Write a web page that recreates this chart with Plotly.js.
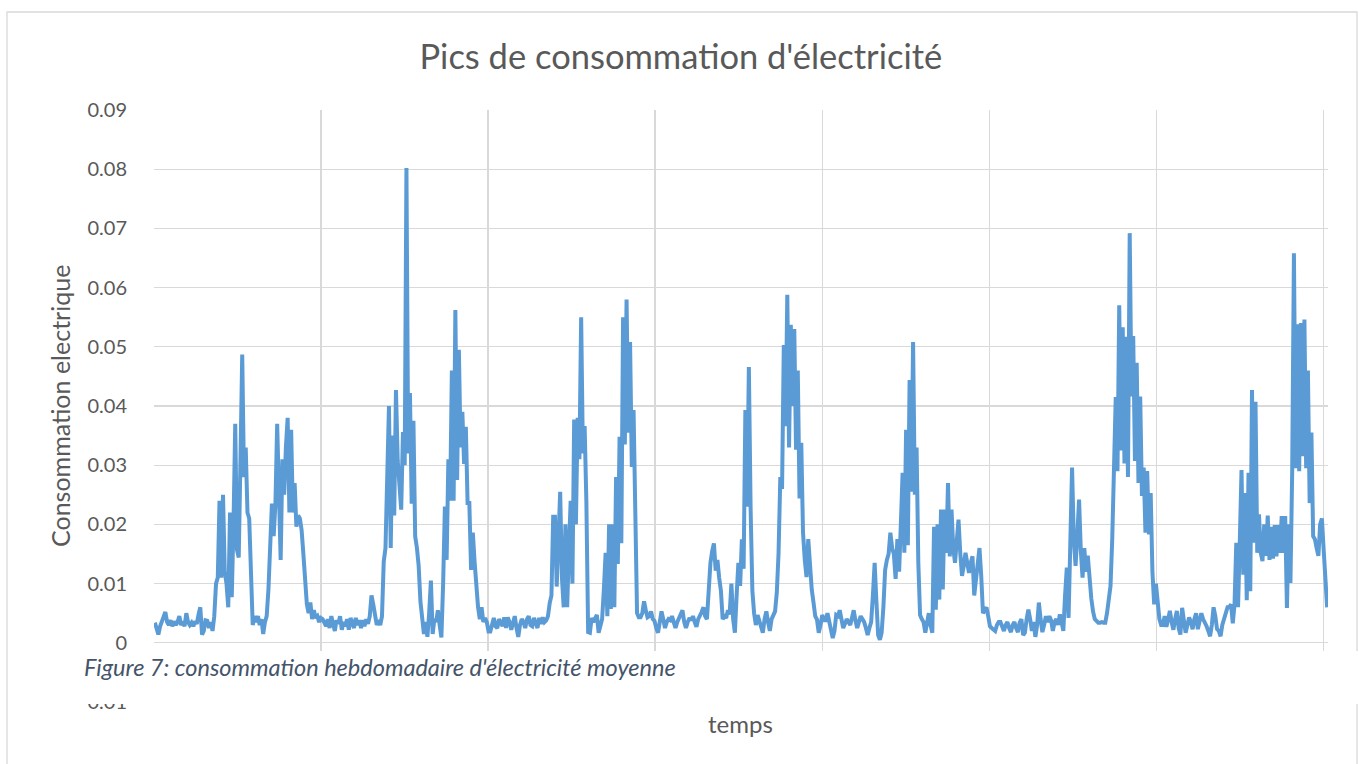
<!DOCTYPE html>
<html>
<head>
<meta charset="utf-8">
<script src="https://cdn.plot.ly/plotly-3.0.1.min.js"></script>
<style>html,body{margin:0;padding:0;background:#fff;}#chart{width:1359px;height:764px;}</style>
</head>
<body>
<div id="chart"></div>
<script>
// Average electricity consumption, 96 readings per day, seven days
const day1 = [.0034,.0025,.0014,.0028,.0035,.0045,.0052,.0035,.003,.0038,
  .0028,.0036,.003,.0035,.0045,.003,.0036,.0028,.005,.0035,
  .003,.0034,.0028,.0036,.0032,.0048,.006,.0014,.002,.0038,
  .0037,.0025,.0035,.002,.0045,.010,.011,.024,.011,.025,
  .012,.010,.006,.022,.0077,.020,.037,.0157,.0144,.031,
  .0487,.028,.033,.022,.021,.012,.003,.0045,.0035,.0045,
  .003,.004,.0015,.0035,.0045,.009,.015,.0235,.018,.0235,
  .037,.026,.014,.031,.025,.033,.038,.022,.036,.022,
  .027,.0196,.0215,.021,.019,.015,.011,.0065,.005,.0068,
  .004,.0055,.0042,.0045,.0035,.0042];
const day2 = [.004,.0035,.0028,.004,.0025,.0045,.0035,.002,.0038,.0032,
  .0045,.0022,.0035,.0028,.004,.0022,.0042,.0035,.0025,.0042,
  .003,.0038,.0025,.0038,.0028,.004,.0032,.0045,.008,.0065,
  .0045,.003,.0038,.003,.0045,.0137,.016,.030,.040,.016,
  .035,.0215,.0427,.0308,.027,.0225,.0356,.03,.0802,.032,
  .0422,.0235,.0375,.018,.016,.013,.007,.0035,.0015,.0035,
  .001,.005,.0105,.0015,.004,.0035,.0055,.003,.0009,.010,
  .023,.014,.031,.024,.046,.024,.0562,.0275,.0495,.033,
  .039,.0302,.0365,.0236,.0236,.0123,.0186,.0137,.0083,.006,
  .004,.006,.0035,.0042,.0035,.0019];
const day3 = [.0019,.0035,.0042,.0028,.0025,.004,.0033,.0028,.0043,.0025,
  .0043,.0035,.0022,.0038,.0045,.0025,.001,.003,.004,.0035,
  .0025,.004,.0045,.003,.0028,.0042,.0035,.0025,.0042,.0032,
  .0043,.0035,.0038,.0045,.0067,.008,.0213,.0213,.0095,.018,
  .0255,.011,.006,.02,.006,.016,.024,.01,.0377,.02,
  .038,.031,.055,.032,.0366,.0236,.0018,.0017,.0042,.0035,
  .004,.0047,.0017,.003,.004,.009,.0152,.0045,.020,.0057,
  .020,.006,.028,.0133,.0348,.0168,.055,.0335,.058,.0355,
  .0508,.0297,.0393,.022,.005,.0043,.0043,.005,.007,.0055,
  .0043,.0045,.0053,.004,.0037,.0025];
const day4 = [.0017,.0035,.0053,.004,.0025,.0035,.004,.0038,.0045,.0035,
  .0025,.0035,.0043,.0048,.0055,.0035,.0025,.0035,.0042,.0038,
  .0045,.0035,.0027,.004,.0045,.0052,.006,.0045,.004,.009,
  .0135,.0155,.0168,.0122,.014,.011,.0088,.004,.0045,.0042,
  .0055,.0048,.01,.004,.0017,.008,.0135,.0096,.0175,.0125,
  .0393,.023,.0466,.0226,.0088,.005,.003,.0047,.0035,.0025,
  .0017,.004,.0053,.0035,.002,.004,.0045,.0053,.0085,.0152,
  .028,.026,.0503,.0366,.0588,.033,.0537,.04,.053,.0326,
  .046,.0244,.0338,.0186,.014,.0111,.0175,.012,.009,.0068,
  .0045,.0039,.0017,.003,.0047,.0038];
const day5 = [.0038,.005,.0035,.0027,.0008,.002,.0047,.0045,.0055,.004,
  .0025,.0032,.004,.0035,.003,.0042,.0055,.0038,.0025,.0035,
  .0045,.004,.0035,.0025,.0013,.0025,.0035,.008,.0135,.007,
  .0013,.0005,.0017,.006,.0123,.014,.015,.0186,.016,.015,
  .0108,.0175,.012,.02,.0287,.0152,.036,.0165,.0444,.0255,
  .0508,.025,.033,.0135,.0047,.004,.0035,.0017,.0035,.005,
  .003,.0017,.0196,.0056,.02,.0073,.0225,.009,.0225,.0152,
  .027,.0146,.0225,.016,.0135,.018,.0208,.0152,.0113,.013,
  .0152,.0135,.0118,.0135,.0146,.008,.011,.0135,.016,.0113,
  .005,.0055,.006,.0045,.0028,.0025];
const day6 = [.0023,.002,.003,.0035,.0035,.0025,.002,.003,.0035,.0025,
  .0018,.003,.0035,.0025,.0018,.0034,.004,.0013,.0017,.004,
  .0056,.004,.002,.0035,.001,.003,.0068,.004,.0018,.003,
  .0045,.0035,.0045,.0038,.002,.0035,.004,.003,.0048,.0035,
  .002,.008,.0127,.0042,.02,.0296,.0175,.013,.018,.0242,
  .0156,.011,.016,.012,.0147,.01,.0075,.0053,.004,.0037,
  .0034,.0034,.0035,.0034,.0034,.005,.0075,.0096,.0175,.0292,
  .0415,.029,.057,.0325,.0533,.0303,.0517,.028,.0692,.0416,
  .0518,.0307,.0473,.027,.0416,.0248,.0296,.0186,.029,.0183,
  .0253,.012,.0065,.010,.0065,.004];
const day7 = [.003,.003,.0045,.0027,.004,.0054,.0035,.0022,.004,.0054,
  .0025,.0014,.0059,.004,.0017,.003,.0043,.0035,.0023,.004,
  .005,.0023,.004,.005,.004,.0035,.0028,.002,.0011,.003,
  .006,.0045,.0023,.002,.0011,.003,.004,.005,.006,.006,
  .0065,.0033,.0065,.0169,.006,.017,.0292,.0115,.0253,.0072,
  .0287,.0087,.0427,.0169,.0407,.0152,.0217,.0152,.0138,.02,
  .0147,.0215,.014,.0196,.0142,.0199,.0146,.0199,.0152,.0214,
  .0152,.0214,.0059,.02,.0101,.029,.0658,.0295,.0538,.029,
  .054,.0315,.0546,.0295,.046,.0236,.0355,.018,.0175,.016,
  .0147,.02,.021,.0158,.0101,.006];

const titleText = "Pics de consommation d'électricité";
const yTitle = "Consommation electrique";
const xTitle = "temps";
const captionText = "Figure 7: consommation hebdomadaire d'électricité moyenne";

const values = [].concat(day1, day2, day3, day4, day5, day6, day7);
const idx = values.map((_, i) => i);
const perDay = day1.length;

const FONT = 'Lato, "Open Sans", sans-serif';
const GRID = '#d9d9d9';
const TXT = '#595959';

const trace = {
  x: idx, y: values, type: 'scatter', mode: 'lines',
  line: {color: '#5b9bd5', width: 4}, hoverinfo: 'skip'
};

const layout = {
  width: 1359, height: 764,
  margin: {l: 154, r: 31, t: 110, b: 62, pad: 0},
  paper_bgcolor: '#ffffff', plot_bgcolor: '#ffffff',
  showlegend: false,
  font: {family: FONT, color: TXT},
  title: {text: titleText, font: {family: FONT, size: 34.5, color: TXT},
          x: 0.501, xref: 'container', xanchor: 'center',
          y: 1 - 57/764, yref: 'container', yanchor: 'middle'},
  xaxis: {range: [-0.5, idx.length - 0.5], tick0: -0.5, dtick: perDay * 0.996, tickmode: 'linear',
          showgrid: true, gridcolor: GRID, gridwidth: 1.3, showticklabels: false,
          ticks: '', zeroline: false, showline: false, fixedrange: true},
  yaxis: {range: [-0.01, 0.09], dtick: 0.01, tick0: 0, tickmode: 'linear',
          showgrid: true, gridcolor: GRID, gridwidth: 1.3, zeroline: false, showline: false,
          ticks: 'outside', ticklen: 22, tickcolor: 'rgba(0,0,0,0)',
          tickfont: {family: FONT, size: 20, color: TXT}, fixedrange: true},
  shapes: [
    {type: 'rect', xref: 'paper', yref: 'paper', layer: 'above',
     x0: (7-154)/1174, x1: (1357-154)/1174, y0: (702-800)/592, y1: (702-12)/592,
     line: {color: GRID, width: 1.3}, fillcolor: 'rgba(0,0,0,0)'},
    {type: 'rect', xref: 'paper', yref: 'paper', layer: 'above',
     x0: (9-154)/1174, x1: (1365-154)/1174, y0: (702-704)/592, y1: (702-651)/592,
     line: {width: 0}, fillcolor: '#ffffff'}
  ],
  annotations: [
    {text: yTitle, xref: 'paper', yref: 'paper', x: (60-154)/1174, y: (702-406)/592,
     xanchor: 'center', yanchor: 'middle', textangle: -90, showarrow: false,
     font: {family: FONT, size: 25, color: TXT}},
    {text: xTitle, xref: 'paper', yref: 'paper', x: (740-154)/1174, y: (702-724)/592,
     xanchor: 'center', yanchor: 'middle', showarrow: false,
     font: {family: FONT, size: 24, color: TXT}},
    {text: '<i>' + captionText + '</i>', xref: 'paper', yref: 'paper', x: (82-154)/1174, y: (702-667)/592,
     xanchor: 'left', yanchor: 'middle', showarrow: false,
     font: {family: FONT, size: 23.5, color: '#44546a'}}
  ]
};

Plotly.newPlot('chart', [trace], layout, {displayModeBar: false, staticPlot: true});
</script>
</body>
</html>
